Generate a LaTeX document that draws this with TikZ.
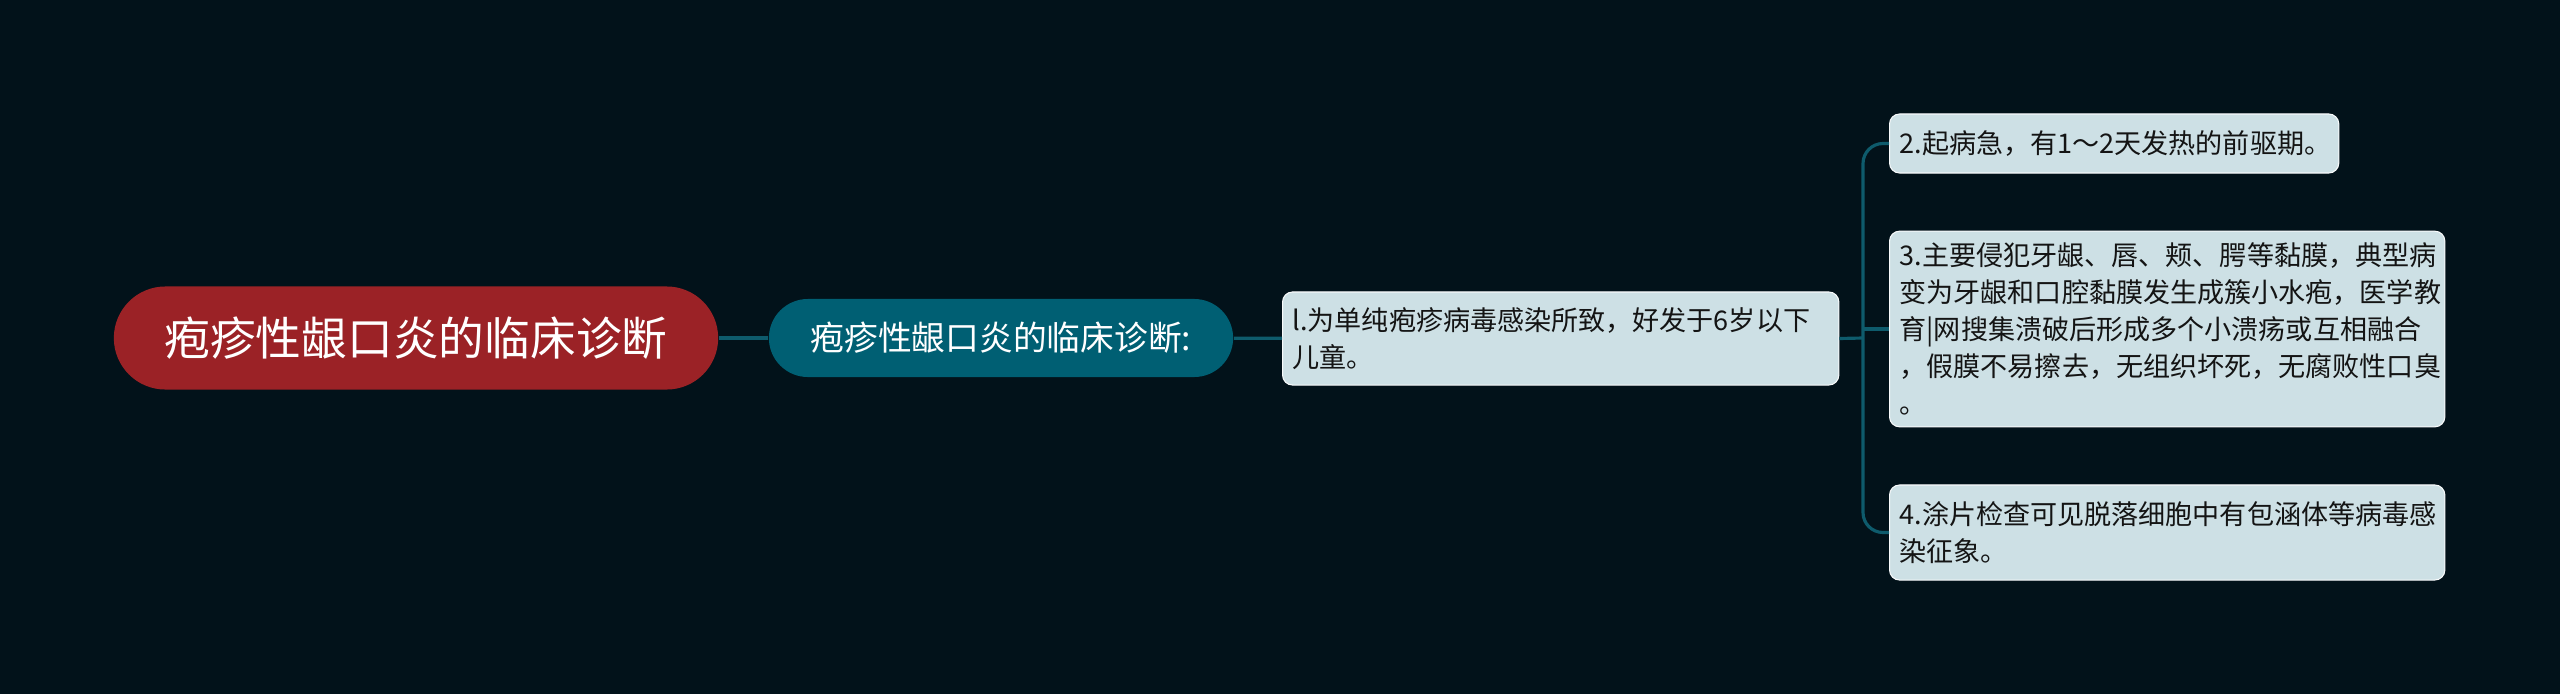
\documentclass[tikz,border=0pt]{standalone}
\usepackage{fontspec}
\setmainfont{Noto Sans CJK SC}
\usetikzlibrary{calc}

\definecolor{bgdark}{HTML}{02121A}
\definecolor{rootred}{HTML}{9B2226}
\definecolor{subteal}{HTML}{005F73}
\definecolor{leaffill}{HTML}{CDE0E5}
\definecolor{linkteal}{HTML}{0E5B6C}
\definecolor{leaftext}{HTML}{141414}

\tikzset{
  rootnode/.style={fill=rootred, text=white, minimum width=6.04cm, minimum height=1.03cm,
    rounded corners=0.515cm, font=\fontsize{13}{15}\selectfont},
  subnode/.style={fill=subteal, text=white, minimum width=4.64cm, minimum height=0.78cm,
    rounded corners=0.39cm, font=\fontsize{9.6}{11}\selectfont},
  leafnode/.style={fill=leaffill, draw=white!85!leaffill, line width=0.3pt, text=leaftext,
    rounded corners=0.1cm, inner xsep=0.1cm, align=left, anchor=west,
    font=\fontsize{7.7}{10.5}\selectfont},
  link/.style={draw=linkteal, line width=0.9pt},
}

\begin{document}
\begin{tikzpicture}[x=0.01cm, y=-0.01cm]
% Canvas
\fill[bgdark] (0,0) rectangle (2560,694);
\useasboundingbox (0,0) rectangle (2560,694);

% Main branch
\node[rootnode] (root) at (416, 338) {疱疹性龈口炎的临床诊断};
\node[subnode] (sub) at (1001, 338) {疱疹性龈口炎的临床诊断:};
\node[leafnode, minimum width=5.56cm, minimum height=0.93cm, text width=5.36cm] (leaf1) at (1282, 338.5)
  {l.为单纯疱疹病毒感染所致，好发于6岁以下\\儿童。};

% Right side leaves
\node[leafnode, minimum width=4.49cm, minimum height=0.59cm, text width=4.29cm] (leaf2) at (1889, 143.5)
  {2.起病急，有1～2天发热的前驱期。};
\node[leafnode, minimum width=5.55cm, minimum height=1.94cm, text width=5.35cm] (leaf3) at (1889, 329)
  {3.主要侵犯牙龈、唇、颊、腭等黏膜，典型病\\变为牙龈和口腔黏膜发生成簇小水疱，医学教\\育|网搜集溃破后形成多个小溃疡或互相融合\\，假膜不易擦去，无组织坏死，无腐败性口臭\\。};
\node[leafnode, minimum width=5.55cm, minimum height=0.95cm, text width=5.35cm] (leaf4) at (1889, 532.5)
  {4.涂片检查可见脱落细胞中有包涵体等病毒感\\染征象。};

% Links
\coordinate (bus) at (1863, 338);
\draw[link] (root) -- (sub);
\draw[link] (sub) -- (leaf1);
\draw[link] (leaf1.east) -- (bus);
\draw[link, rounded corners=0.2cm] (leaf2.west) -| (bus) |- (leaf4.west);
\draw[link] (bus |- leaf3.west) -- (leaf3.west);
\end{tikzpicture}
\end{document}
